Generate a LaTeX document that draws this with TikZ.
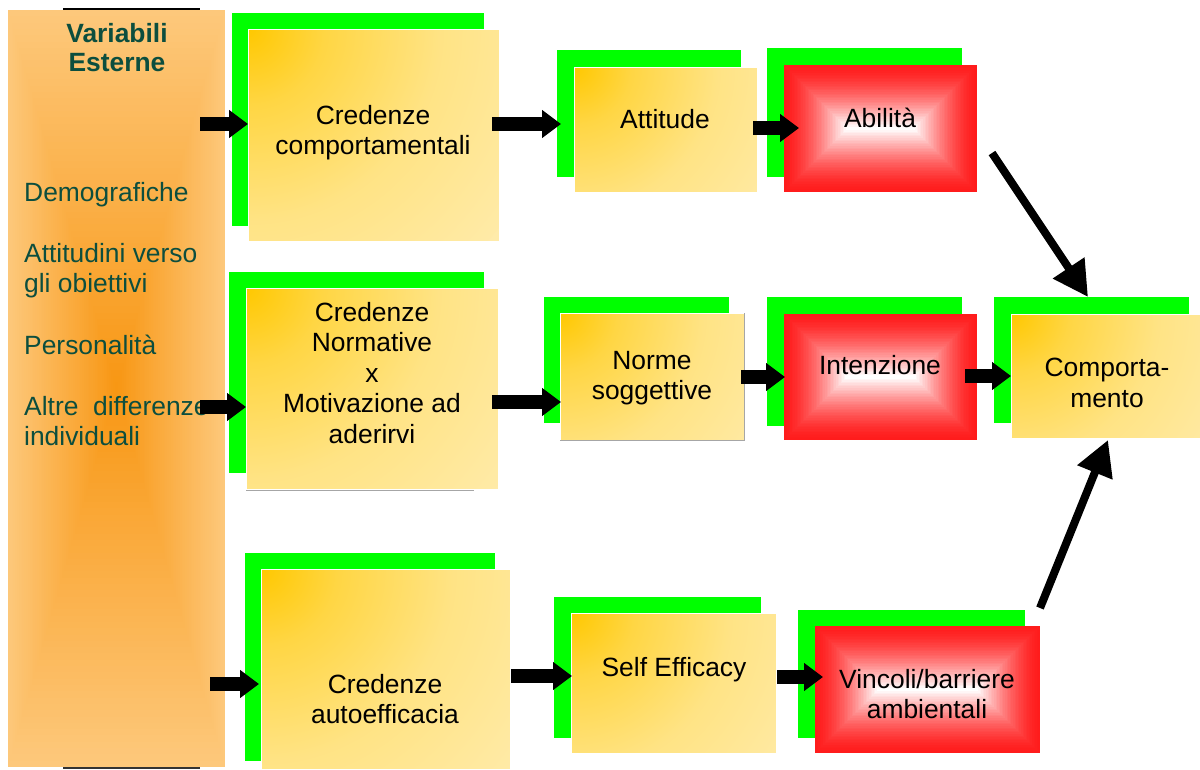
\documentclass[tikz,border=0pt]{standalone}
\usepackage{fontspec}
\setmainfont{Liberation Sans}
\usetikzlibrary{arrows.meta,calc}
\definecolor{grn}{RGB}{0,255,0}
\definecolor{ygold}{RGB}{255,200,0}
\definecolor{ylight}{RGB}{255,235,170}
\definecolor{rred}{RGB}{255,28,28}
\definecolor{orlight}{RGB}{253,200,123}
\definecolor{ordark}{RGB}{248,150,18}
\definecolor{tealtxt}{RGB}{12,78,62}

\pgfdeclareradialshading{ycorner}{\pgfpoint{0bp}{0bp}}{%
  color(0bp)=(ygold); color(6bp)=(ygold!60!ylight); color(15bp)=(ygold!22!ylight);
  color(26bp)=(ylight); color(50bp)=(ylight)}

\tikzset{
  gback/.style={fill=grn, draw=none, inner sep=0pt, outer sep=0pt},
  yfront/.style={fill=ylight, draw=white, line width=1pt, inner sep=0pt, outer sep=0pt,
    path picture={\shade[shading=ycorner]
      (path picture bounding box.north west) circle[radius=#1];}},
  rfront/.style={draw=none, inner sep=0pt, outer sep=0pt},
  btxt/.style={align=center, font=\fontsize{26.4}{30.5}\selectfont, inner sep=0pt},
  ltxt/.style={anchor=base west, font=\fontsize{26.4}{30.5}\selectfont, text=tealtxt, inner sep=0pt},
  htxt/.style={anchor=base, font=\fontsize{26.4}{30.5}\selectfont\bfseries, text=tealtxt, inner sep=0pt},
  blk/.style={line width=14pt, -{Triangle[length=19pt,width=27pt]}},
  diag/.style={line width=8pt, -{Triangle[length=35pt,width=36pt]}},
  shadowline/.style={draw=black!35, line width=1pt},
}

% #1 style, #2 name, #3 x1, #4 y1, #5 x2, #6 y2
\newcommand\boxnode[6]{%
  \pgfmathsetmacro\bwd{#5-#3}\pgfmathsetmacro\bht{#6-#4}%
  \node[#1, minimum width=\bwd pt, minimum height=\bht pt] (#2) at ({(#3+#5)/2},{(#4+#6)/2}) {};
}
% red rectangular gradient: x1 y1 x2 y2
\newcommand\redshade[4]{%
  \pgfmathsetmacro\rhw{(#3-#1)/2}\pgfmathsetmacro\rhh{(#4-#2)/2}%
  \pgfmathsetmacro\rmm{min(\rhw,\rhh)}%
  \foreach \k in {0,...,39}{%
    \pgfmathsetmacro\dd{\rmm*\k/40}%
    \pgfmathsetmacro\pp{100*(\k/39)*sqrt(\k/39)}%
    \fill[white!\pp!rred] ({#1+\dd},{#2+\dd}) rectangle ({#3-\dd},{#4-\dd});
  }%
}

\begin{document}
\begin{tikzpicture}[x=1pt,y=-1pt]
\useasboundingbox (0,0) rectangle (1200,769);
\fill[white] (0,0) rectangle (1200,769);

% ---- left panel with rectangular gradient
\fill[orlight] (8,10) rectangle (225,767);
\foreach \k in {1,...,59}{%
  \pgfmathsetmacro\tt{\k/60}%
  \pgfmathsetmacro\pp{100*\tt}%
  \fill[ordark!\pp!orlight] ({8+108.5*\tt},{10+378.5*\tt}) rectangle ({225-108.5*\tt},{767-378.5*\tt});
}
\node[rfront, minimum width=217pt, minimum height=757pt] (ve) at (116.5,388.5) {};
\draw[line width=1.5pt] (63,9) -- (200,9);
\draw[line width=1.5pt, black!80] (63,768) -- (200,768);

\node[htxt] (ve1) at (117,42) {Variabili};
\node[htxt] (ve2) at (117,71.5) {Esterne};
\node[ltxt] (l1) at (24,201) {Demografiche};
\node[ltxt] (l2) at (24,262) {Attitudini verso};
\node[ltxt] (l3) at (24,292) {gli obiettivi};
\node[ltxt] (l4) at (24,354) {Personalità};
\node[ltxt] (l5) at (24,415) {Altre~~differenze};
\node[ltxt] (l6) at (24,445) {individuali};

% ---- row 1
\boxnode{gback}{ccg}{232}{13}{484}{226}
\boxnode{yfront=320pt}{cc}{248}{29}{499}{241}
\node[btxt] (cct) at (373,132.5) {Credenze\\comportamentali};

\boxnode{gback}{attg}{557}{50}{741}{177}
\boxnode{yfront=240pt}{att}{574}{67}{757}{192}
\node[btxt] (attt) at (665,119.5) {Attitude};

\boxnode{gback}{abig}{767}{48}{962}{177}
\redshade{784}{65}{977}{192}
\boxnode{rfront}{abi}{784}{65}{977}{192}
\node[btxt] (abit) at (880,118) {Abilità};

% ---- row 2
\boxnode{gback}{cng}{229}{272}{484}{473}
\boxnode{yfront=320pt}{cn}{246}{288}{498}{489}
\draw[shadowline] (246,490.5) -- (474,490.5);
\node[btxt] (cnt) at (372,373) {Credenze\\Normative\\x\\Motivazione ad\\aderirvi};

\boxnode{gback}{nsg}{544}{297}{729}{423}
\boxnode{yfront=240pt}{ns}{560}{313}{744}{440}
\draw[shadowline] (560,440.5) -- (744.5,440.5) -- (744.5,313);
\node[btxt] (nst) at (652,378) {Norme\\soggettive};

\boxnode{gback}{intg}{767}{297}{962}{426}
\redshade{784}{314}{977}{440}
\boxnode{rfront}{int}{784}{314}{977}{440}
\node[btxt] (intt) at (880,365) {Intenzione};

\boxnode{gback}{cpg}{994}{297}{1189}{423}
\boxnode{yfront=245pt}{cp}{1011}{314}{1200}{438}
\node[btxt] (cpt) at (1107,383) {Comporta-\\mento};

% ---- row 3
\boxnode{gback}{cag}{245}{553}{495}{761}
\boxnode{yfront=320pt}{ca}{261}{569}{510}{769}
\node[btxt] (cat) at (385,699.3) {Credenze\\autoefficacia};

\boxnode{gback}{seg}{554}{597}{761}{738}
\boxnode{yfront=265pt}{se}{571}{613}{776}{753}
\node[btxt] (set) at (674,669.8) {Self Efficacy};

\boxnode{gback}{ving}{798}{610}{1025}{738}
\redshade{815}{626}{1040}{753}
\boxnode{rfront}{vin}{815}{626}{1040}{753}
\node[btxt] (vint) at (927,694.3) {Vincoli/barriere\\ambientali};

% ---- arrows
\coordinate (a1) at (200,124);
\coordinate (a2) at (492,124);
\coordinate (a3) at (753,128);
\coordinate (a4) at (200,407);
\coordinate (a5) at (492,402);
\coordinate (a6) at (741,377);
\coordinate (a7) at (965,376);
\coordinate (a8) at (210,684);
\coordinate (a9) at (511,676);
\coordinate (a10) at (777,677);
\draw[blk] (a1) -- (a1 -| cc.west);
\draw[blk] (a2) -- ($(a2 -| attg.west)+(4,0)$);
\draw[blk] (a3) -- ($(a3 -| abi.west)+(15,0)$);
\draw[blk] (a4) -- (a4 -| cn.west);
\draw[blk] (a5) -- ($(a5 -| ns.west)+(1,0)$);
\draw[blk] (a6) -- ($(a6 -| int.west)+(1,0)$);
\draw[blk] (a7) -- (a7 -| cp.west);
\draw[blk] (a8) -- ($(a8 -| ca.west)+(-2,0)$);
\draw[blk] (a9) -- ($(a9 -| se.west)+(1,0)$);
\draw[blk] (a10) -- ($(a10 -| vin.west)+(8,0)$);

\coordinate (d1) at (992,153);
\coordinate (d2) at (1040,608);
\draw[diag] (d1) -- ($(cpg.north west)+(94,0)$);
\draw[diag] (d2) -- ($(cp.south)+(2.5,2)$);
\end{tikzpicture}
\end{document}
